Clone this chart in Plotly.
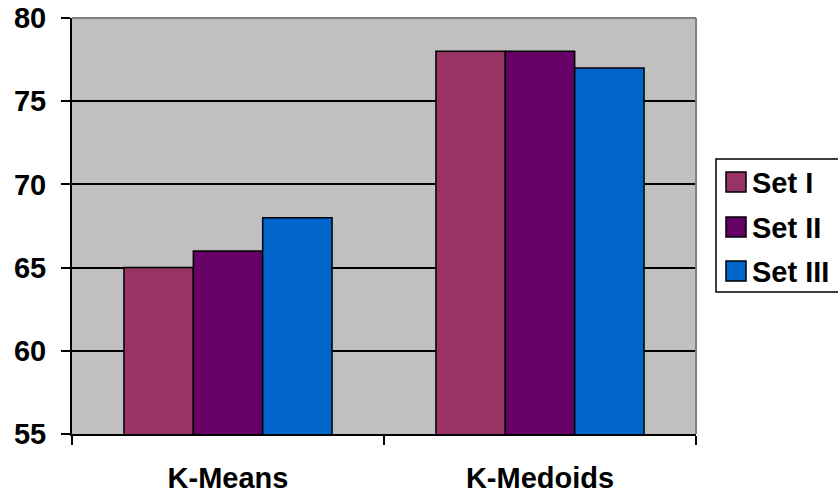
import plotly.graph_objects as go

# Accuracy (%) of each clustering method on the three data sets
methods = ["K-Means", "K-Medoids"]
series_names = ["Set I", "Set II", "Set III"]
set_i = [65, 78]
set_ii = [66, 78]
set_iii = [68, 77]
series_values = [set_i, set_ii, set_iii]
series_colors = ["#993366", "#660066", "#0066CC"]
y_ticks = [55, 60, 65, 70, 75, 80]

FONT = "Liberation Sans, Arial, sans-serif"
FSIZE = 29

fig = go.Figure()
for name, vals, color in zip(series_names, series_values, series_colors):
    fig.add_trace(go.Bar(
        x=methods, y=vals, name=name,
        marker=dict(color=color, line=dict(color="black", width=1.5)),
        showlegend=False,
    ))

fig.update_layout(
    width=838, height=498,
    margin=dict(l=72, r=142, t=18, b=64, autoexpand=False),
    paper_bgcolor="white",
    plot_bgcolor="#C0C0C0",
    barmode="group",
    bargap=0.333,
    bargroupgap=0,
    font=dict(family=FONT, size=FSIZE, color="black"),
)

fig.update_yaxes(
    range=[55, 80], tickvals=y_ticks, automargin=False,
    showgrid=True, gridcolor="black", gridwidth=1.5,
    showline=True, linecolor="black", linewidth=2,
    ticks="outside", ticklen=9, tickwidth=2, tickcolor="black",
    ticklabelstandoff=9,
    tickfont=dict(family=FONT, size=FSIZE, color="black", weight="bold"),
    zeroline=False,
)
fig.update_xaxes(
    automargin=False,
    showline=True, linecolor="black", linewidth=2,
    ticks="outside", tickson="boundaries", ticklen=9, tickwidth=2, tickcolor="black",
    ticklabelstandoff=17,
    tickfont=dict(family=FONT, size=FSIZE, color="black", weight="bold"),
)

# Gray frame on the top and right edges of the plot area
fig.add_shape(type="line", xref="paper", yref="paper", x0=0, x1=1, y0=1, y1=1,
              line=dict(color="#808080", width=2), layer="above")
fig.add_shape(type="line", xref="paper", yref="paper", x0=1, x1=1, y0=0, y1=1,
              line=dict(color="#808080", width=2), layer="above")

# Legend box with square swatches
plot_w, plot_h = 838 - 72 - 142, 498 - 18 - 64


def px_x(px):
    return (px - 72) / plot_w


def px_y(py):
    return (498 - 64 - py) / plot_h


fig.add_shape(type="rect", xref="paper", yref="paper",
              x0=px_x(716), x1=px_x(845), y0=px_y(292), y1=px_y(159),
              line=dict(color="black", width=1.5), fillcolor="white")
centers = [182, 227, 271]
for name, color, cy in zip(series_names, series_colors, centers):
    fig.add_shape(type="rect", xref="paper", yref="paper",
                  x0=px_x(726), x1=px_x(746), y0=px_y(cy + 10), y1=px_y(cy - 10),
                  line=dict(color="black", width=1.5), fillcolor=color)
    fig.add_annotation(xref="paper", yref="paper", x=px_x(750), y=px_y(cy + 1),
                       text="<b>%s</b>" % name, showarrow=False,
                       xanchor="left", yanchor="middle",
                       font=dict(family=FONT, size=FSIZE, color="black"))

fig.write_html("out.html")
